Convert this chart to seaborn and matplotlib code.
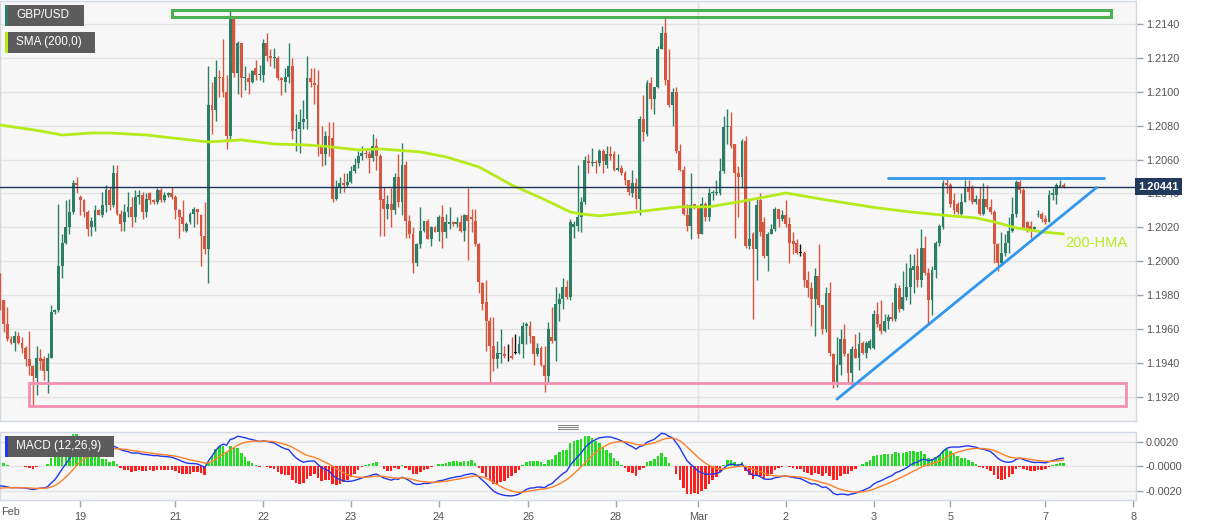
import numpy as np
import pandas as pd
import matplotlib.pyplot as plt
import matplotlib.transforms as mtransforms
from matplotlib.patches import Rectangle
from matplotlib.lines import Line2D
import seaborn as sns

# GBP/USD, часовые свечи; значения в пунктах от 1.2000
base = 1.2000
opens = [-8, -23, -37, -46, -48, -44, -48, -51, -58, -62,
         -69, -57, -58, -65, -57, -30, -29, -3, 11, 20,
         29, 46, 38, 36, 29, 20, 20, 30, 27, 33,
         42, 33, 52, 28, 23, 29, 32, 26, 38, 39,
         29, 40, 36, 35, 42, 36, 39, 40, 38, 30,
         26, 18, 23, 28, 31, 27, 15, 7, 92, 89,
         109, 109, 100, 74, 143, 111, 129, 108, 108, 106,
         114, 110, 110, 129, 121, 120, 120, 108, 106, 109,
         115, 77, 78, 82, 84, 108, 105, 104, 68, 63,
         74, 73, 37, 44, 46, 45, 47, 53, 58, 62,
         64, 63, 61, 68, 62, 37, 31, 34, 30, 50,
         35, 57, 24, 16, -1, 10, 18, 24, 13, 20,
         17, 26, 17, 22, 23, 22, 23, 18, 27, 26,
         24, 10, -13, -24, -35, -50, -58, -55, -55, -56,
         -56, -54, -54, -49, -38, -38, -44, -55, -51, -61,
         -68, -45, -47, -25, -22, -15, -21, 20, 21, 26,
         35, 59, 58, 58.5, 58, 65, 57, 63, 63, 54,
         55, 52, 48, 40, 46, 37, 84, 75, 105, 96,
         103, 125, 135, 107, 92, 100, 65, 54, 27, 21,
         34, 32, 16, 34, 26, 40, 40, 40, 53, 79,
         80, 69, 52, 50, 71, 9, 16, 7, 36, 23,
         3, 16, 19, 31, 25, 27, 22, 12, 11, 5,
         5, -11, -16, -22, -9, -26, -40, -19, -55, -71,
         -61, -46, -55, -66, -52, -57, -48, -54, -51, -51,
         -31, -37, -41, -35, -33, -34, -16, -28, -21, -15,
         -5, -3, -11, 8, -7, -23, -5, 11, 20, 46,
         45, 36, 34, 28, 35, 43, 44, 35, 37, 28,
         37, 32, 29, 10, -1, 5, 11, 18, 28, 47,
         42, 23, 21, 19, 27, 28, 25, 23, 39, 39,
         44, 45]
highs = [-7, -23, -27, -44, -41, -42, -45, -50, -41, -61,
         -50, -52, -56, -54, -26, -28, 34, 16, 36, 37,
         48, 50, 39, 37, 30, 26, 33, 31, 41, 45,
         44, 57, 57, 30, 34, 41, 38, 42, 42, 41,
         40, 41, 37, 43, 43, 41, 41, 44, 39, 31,
         36, 23, 29, 32, 31, 28, 35, 115, 106, 119,
         113, 131, 110, 148, 144, 130, 129, 115, 111, 113,
         119, 116, 131, 135, 125, 126, 121, 109, 114, 129,
         120, 87, 90, 95, 121, 114, 114, 113, 80, 77,
         82, 82, 48, 50, 52, 52, 56, 61, 65, 68,
         66, 65, 75, 73, 63, 44, 39, 43, 52, 63,
         70, 59, 27, 20, 11, 32, 24, 25, 21, 21,
         27, 33, 28, 32, 24, 26, 27, 28, 43, 31,
         31, 11, -12, -11, -33, -33, -47, -40, -50, -49,
         -45, -43, -44, -36, -36, -35, -44, -48, -50, -50,
         -36, -27, -15, -19, -10, -11, 25, 24, 57, 38,
         62, 63, 67, 60, 66, 66, 68, 68, 65, 63,
         57, 53, 48, 54, 49, 86, 98, 107, 109, 103,
         127, 139, 144, 125, 102, 103, 69, 56, 34, 52,
         34, 33, 38, 35, 43, 42, 48, 61, 86, 90,
         88, 69, 56, 72, 74, 37, 17, 37, 40, 26,
         17, 22, 32, 31, 30, 36, 26, 17, 13, 10,
         6, -6, -12, -4, 10, -26, -15, -12, -54, -45,
         -40, -37, -54, -50, -43, -42, -47, -47, -46, -29,
         -24, -23, -31, -31, -24, -13, -14, -6, -1, 4,
         4, 8, 19, 15, -4, -3, 12, 22, 48, 49,
         46, 40, 35, 40, 48, 48, 45, 39, 44, 46,
         45, 37, 30, 11, 17, 16, 26, 38, 48, 48,
         43, 24, 24, 21, 30, 29, 27, 42, 43, 46,
         48, 46]
lows = [-29, -42, -47, -49, -53, -49, -54, -62, -67, -85,
        -79, -64, -70, -78, -57, -31, -30, -10, 10, 16,
        28, 40, 27, 26, 15, 15, 18, 27, 26, 29,
        30, 32, 27, 18, 18, 26, 20, 23, 34, 25,
        26, 34, 34, 34, 35, 35, 38, 37, 25, 14,
        18, 17, 22, 20, 22, -3, 4, -13, 75, 83,
        97, 97, 66, 72, 109, 99, 97, 101, 99, 105,
        107, 107, 106, 118, 115, 114, 107, 98, 100, 105,
        72, 65, 64, 78, 78, 103, 93, 62, 56, 57,
        62, 35, 36, 40, 41, 44, 46, 52, 55, 60,
        61, 52, 59, 54, 15, 15, 25, 20, 28, 32,
        27, 14, 14, -7, -3, 8, 17, 13, 9, 17,
        12, 8, 14, 19, 21, 20, 17, 12, 1, 17,
        9, -19, -29, -53, -71, -65, -63, -60, -57, -59,
        -58, -55, -55, -57, -49, -48, -61, -56, -62, -77,
        -71, -48, -59, -35, -28, -22, -23, 14, 18, 17,
        34, 52, 56, 52, 56, 52, 55, 60, 53, 53,
        51, 45, 39, 38, 31, 27, 71, 74, 90, 87,
        102, 125, 104, 91, 80, 64, 53, 27, 18, 13,
        31, 14, 16, 24, 24, 36, 39, 39, 52, 69,
        67, 14, 26, 43, 8, 7, -34, -11, 15, 2,
        -6, 16, 18, 20, 24, 20, -1, 4, 4, 3,
        -15, -21, -38, -44, -27, -43, -42, -56, -75, -74,
        -67, -56, -72, -74, -57, -64, -55, -57, -52, -52,
        -39, -43, -42, -40, -35, -35, -30, -29, -23, -25,
        -19, -15, -15, -8, -37, -32, -10, 9, 19, 40,
        32, 28, 28, 27, 35, 36, 34, 34, 27, 27,
        31, 28, -1, -6, -3, 3, 5, 17, 26, 40,
        19, 17, 14, 19, 26, 23, 22, 23, 36, 34,
        44, 43]
closes = [-19, -37, -46, -48, -44, -48, -51, -58, -62, -68,
          -57, -59, -65, -57, -30, -29, -3, 11, 20, 29,
          46, 45, 36, 29, 19, 24, 30, 27, 33, 42,
          33, 52, 28, 22, 29, 32, 26, 38, 39, 29,
          37, 36, 35, 42, 36, 39, 40, 38, 30, 26,
          22, 22, 28, 31, 29, 15, 7, 92, 89, 109,
          108, 100, 74, 143, 111, 129, 108, 108.5, 106, 112,
          110, 110.5, 129, 121, 120, 120.5, 108, 107, 109, 115,
          77, 78, 82, 84, 108, 106, 104, 68, 63, 74,
          68, 37, 44, 46, 45, 47, 53, 57, 62, 64,
          63, 61, 68, 62, 36, 31, 34, 30, 50, 35,
          57, 24, 16, -1, 10, 18, 24, 13, 20, 17,
          26, 17, 23, 23, 22, 23, 18, 27, 24, 25,
          10, -12, -25, -35, -50, -58, -54, -54, -56, -56,
          -57, -54, -49, -38, -37, -44, -55, -51, -61, -68,
          -40, -47, -25, -22, -15, -21, 23, 22, 26, 35,
          60, 58, 58.5, 58, 65, 59, 63, 62, 54, 55,
          52, 48, 41, 46, 37, 84, 76, 105, 96, 103,
          125, 135, 107, 92, 100, 65, 54, 28, 21, 33,
          32, 16, 34, 26, 40, 41, 41, 53, 79, 80,
          68, 52, 50, 71, 9, 13, 7, 33, 17, 3,
          16, 19, 31, 25, 27, 22, 11, 10, 5, 5,
          -11, -16, -22, -9, -26, -40, -19, -54, -71, -61,
          -46, -55, -66, -52, -57, -49, -54, -48, -47, -31,
          -37, -41, -35, -33, -34, -16, -28, -21, -15, -4,
          -3, -11, 8, -7, -23, -5, 11, 21, 46, 45,
          34, 30, 29, 35, 43, 41, 35, 37, 28, 37,
          32, 29, 10, -1, 5, 11, 18, 28, 47, 42,
          19, 18, 18, 20, 28, 25, 23, 39, 40, 45,
          45, 44.1]

# 200-HMA (номер свечи -> цена)
sma_idx = [0, 5.5, 11, 17, 25, 30, 40, 52, 57, 66, 75, 84, 88, 93, 98, 104, 115, 122, 131,
           140, 148, 156, 159, 164, 174, 186, 194, 202, 208, 215, 226, 240, 249, 260, 267,
           272, 278, 285, 291]
sma_val = [1.20804, 1.20787, 1.20769, 1.20745, 1.20757, 1.20757, 1.20745, 1.20716, 1.20704,
           1.20716, 1.20692, 1.20686, 1.20680, 1.20669, 1.20657, 1.20663, 1.20645, 1.20616,
           1.20557, 1.20450, 1.20374, 1.20291, 1.20279, 1.20268, 1.20291, 1.20321, 1.20321,
           1.20350, 1.20374, 1.20403, 1.20362, 1.20315, 1.20291, 1.20268, 1.20256, 1.20232,
           1.20197, 1.20173, 1.20161]

tick_pos = [22, 48, 72, 96, 120, 144.5, 168.5, 191, 215, 239, 260, 286, 310]
tick_lab = ['19', '21', '22', '23', '24', '26', '28', 'Mar', '2', '3', '5', '7', '8']
price_ticks = [1.1920, 1.1940, 1.1960, 1.1980, 1.2000, 1.2020, 1.2040,
               1.2060, 1.2080, 1.2100, 1.2120, 1.2140]
macd_ticks = [0.0020, 0.0, -0.0020]
macd_labels = ['0.0020', '-0.0000', '-0.0020']

# уровни и линии тренда
resist_box = (47, 304, 1.21440, 1.21482)
support_box = (8, 308, 1.19143, 1.19280)
trend_idx = [229, 300]
trend_val = [1.19186, 1.20435]
top_idx = [243, 302]
top_val = [1.20492, 1.20492]
last_price = 1.20441
macd_start, signal_start = -0.0016, -0.0018
hist_scale = 2  # гистограмма на графике вдвое больше разницы линий

df = pd.DataFrame({'o': opens, 'h': highs, 'l': lows, 'c': closes}) / 10000 + base
df['i'] = np.arange(len(df))
n = len(df)

# MACD (12,26,9)
c = df['c'].values
e12 = np.zeros(n); e26 = np.zeros(n); sig = np.zeros(n)
e12[0] = c[0]; e26[0] = c[0] - macd_start
for k in range(1, n):
    e12[k] = e12[k-1] + 2 / 13 * (c[k] - e12[k-1])
    e26[k] = e26[k-1] + 2 / 27 * (c[k] - e26[k-1])
macd = e12 - e26
sig[0] = signal_start
for k in range(1, n):
    sig[k] = sig[k-1] + 0.2 * (macd[k] - sig[k-1])
hist = (macd - sig) * hist_scale

sns.set_theme(style='white')
plt.rcParams['font.family'] = ['Liberation Sans', 'DejaVu Sans']

W, H = 1207, 526
fig = plt.figure(figsize=(W / 100, H / 100), dpi=100, facecolor='white')
ax = fig.add_axes([0, 1 - 421 / H, 1136 / W, 420 / H])
ax2 = fig.add_axes([0, 1 - 500 / H, 1136 / W, 68 / H])

up_col, dn_col = '#2c7f66', '#d8553f'
for a in (ax, ax2):
    a.set_facecolor('#f7f7f7')
    for s in a.spines.values():
        s.set_color('#d2d8e4')
        s.set_linewidth(1)
    a.set_xlim(0, 310.8)
    a.set_axisbelow(True)

# свечи
up = df['c'] > df['o']
flat = df['c'] == df['o']
cols = np.where(flat, '#111111', np.where(up, up_col, dn_col))
ax.vlines(df['i'], df['l'], df['h'], colors=cols, lw=1, zorder=3)
body = (df['c'] - df['o']).abs().clip(lower=0.000018)
ax.bar(df['i'], body, bottom=df[['o', 'c']].min(axis=1), width=0.78,
       color=cols, linewidth=0, zorder=4)

sns.lineplot(x=sma_idx, y=sma_val, ax=ax, color='#b6ea1a', lw=2, zorder=5)

ax.add_patch(Rectangle((resist_box[0], resist_box[2]), resist_box[1] - resist_box[0],
                       resist_box[3] - resist_box[2], fill=False, ec='#4caf50', lw=2.2, zorder=6))
ax.add_patch(Rectangle((support_box[0], support_box[2]), support_box[1] - support_box[0],
                       support_box[3] - support_box[2], fill=False, ec='#f38fb0', lw=2, zorder=6))
ax.plot(trend_idx, trend_val, color='#2f97ef', lw=2, zorder=6)
ax.plot(top_idx, top_val, color='#2f97ef', lw=2, zorder=6)
ax.axhline(last_price, color='#1d3557', lw=1, zorder=5)
ax.axvline(191, color='#e2e2e2', lw=1, zorder=0)
ax.text(291.5, 1.20108, '200-HMA', color='#b6ea1a', fontsize=10.5, va='center', ha='left')

ax.set_ylim(1.19057, 1.21536)
ax.yaxis.tick_right()
ax.set_yticks(price_ticks)
ax.set_yticklabels(['%.4f' % v for v in price_ticks])
ax.grid(True, axis='y', color='#e3e3e3', lw=1)
ax.set_xticks([])
ax.set_xlabel('')
ax.set_ylabel('')
ax.tick_params(axis='y', right=True, length=5, width=1, color='#9aa3b0',
               labelcolor='#555555', labelsize=7.8, pad=2)
tr = mtransforms.blended_transform_factory(ax.transAxes, ax.transData)
ax.text(1.002, last_price, '1.20441', transform=tr, ha='left', va='center', color='white',
        fontsize=8, fontweight='bold', zorder=10,
        bbox=dict(boxstyle='square,pad=0.3', fc='#21395a', ec='none'))

# MACD панель
hcol = np.where(hist >= 0, '#22dd22', '#ff1e1e')
ax2.bar(df['i'], hist, width=0.7, color=hcol, linewidth=0, zorder=2)
sns.lineplot(x=df['i'], y=macd, ax=ax2, color='#2038f0', lw=1, zorder=3)
sns.lineplot(x=df['i'], y=sig, ax=ax2, color='#ff7f27', lw=1, zorder=3)
ax2.set_ylim(-0.00276, 0.00282)
ax2.yaxis.tick_right()
ax2.set_yticks(macd_ticks)
ax2.set_yticklabels(macd_labels)
ax2.grid(True, axis='y', color='#e3e3e3', lw=1)
ax2.set_xticks(tick_pos)
ax2.set_xticklabels(tick_lab)
ax2.set_xlabel('')
ax2.set_ylabel('')
ax2.tick_params(axis='both', length=5, width=1, color='#9aa3b0',
                labelcolor='#555555', labelsize=7.8, pad=2)
ax2.tick_params(axis='x', bottom=True, pad=4)
ax2.tick_params(axis='y', right=True)
fig.text(1 / W, 1 - 512 / H, 'Feb', color='#555555', fontsize=7.8, ha='left', va='center')


def tag(x, y, w, h, text, strip):
    fig.patches.append(Rectangle((x / W, 1 - (y + h) / H), w / W, h / H,
                                 transform=fig.transFigure, fc='#5c5c5c', ec='none', zorder=5))
    fig.patches.append(Rectangle((x / W, 1 - (y + h) / H), 2.5 / W, h / H,
                                 transform=fig.transFigure, fc=strip, ec='none', zorder=6))
    fig.text((x + 11) / W, 1 - (y + h / 2) / H, text, color='white', fontsize=8.5,
             ha='left', va='center', zorder=7)


tag(5, 5, 79, 21, 'GBP/USD', '#2c7f66')
tag(5, 32, 90, 21, 'SMA (200,0)', '#b6ea1a')
tag(5, 436, 109, 21, 'MACD (12,26,9)', '#2038f0')

# ручка-разделитель панелей
for dy in (-2, 0, 2):
    fig.lines.append(Line2D([558 / W, 578 / W], [1 - (427 + dy) / H] * 2,
                            transform=fig.transFigure, color='#888888', lw=0.8))

fig.savefig('out.png', dpi=100, facecolor='white')
